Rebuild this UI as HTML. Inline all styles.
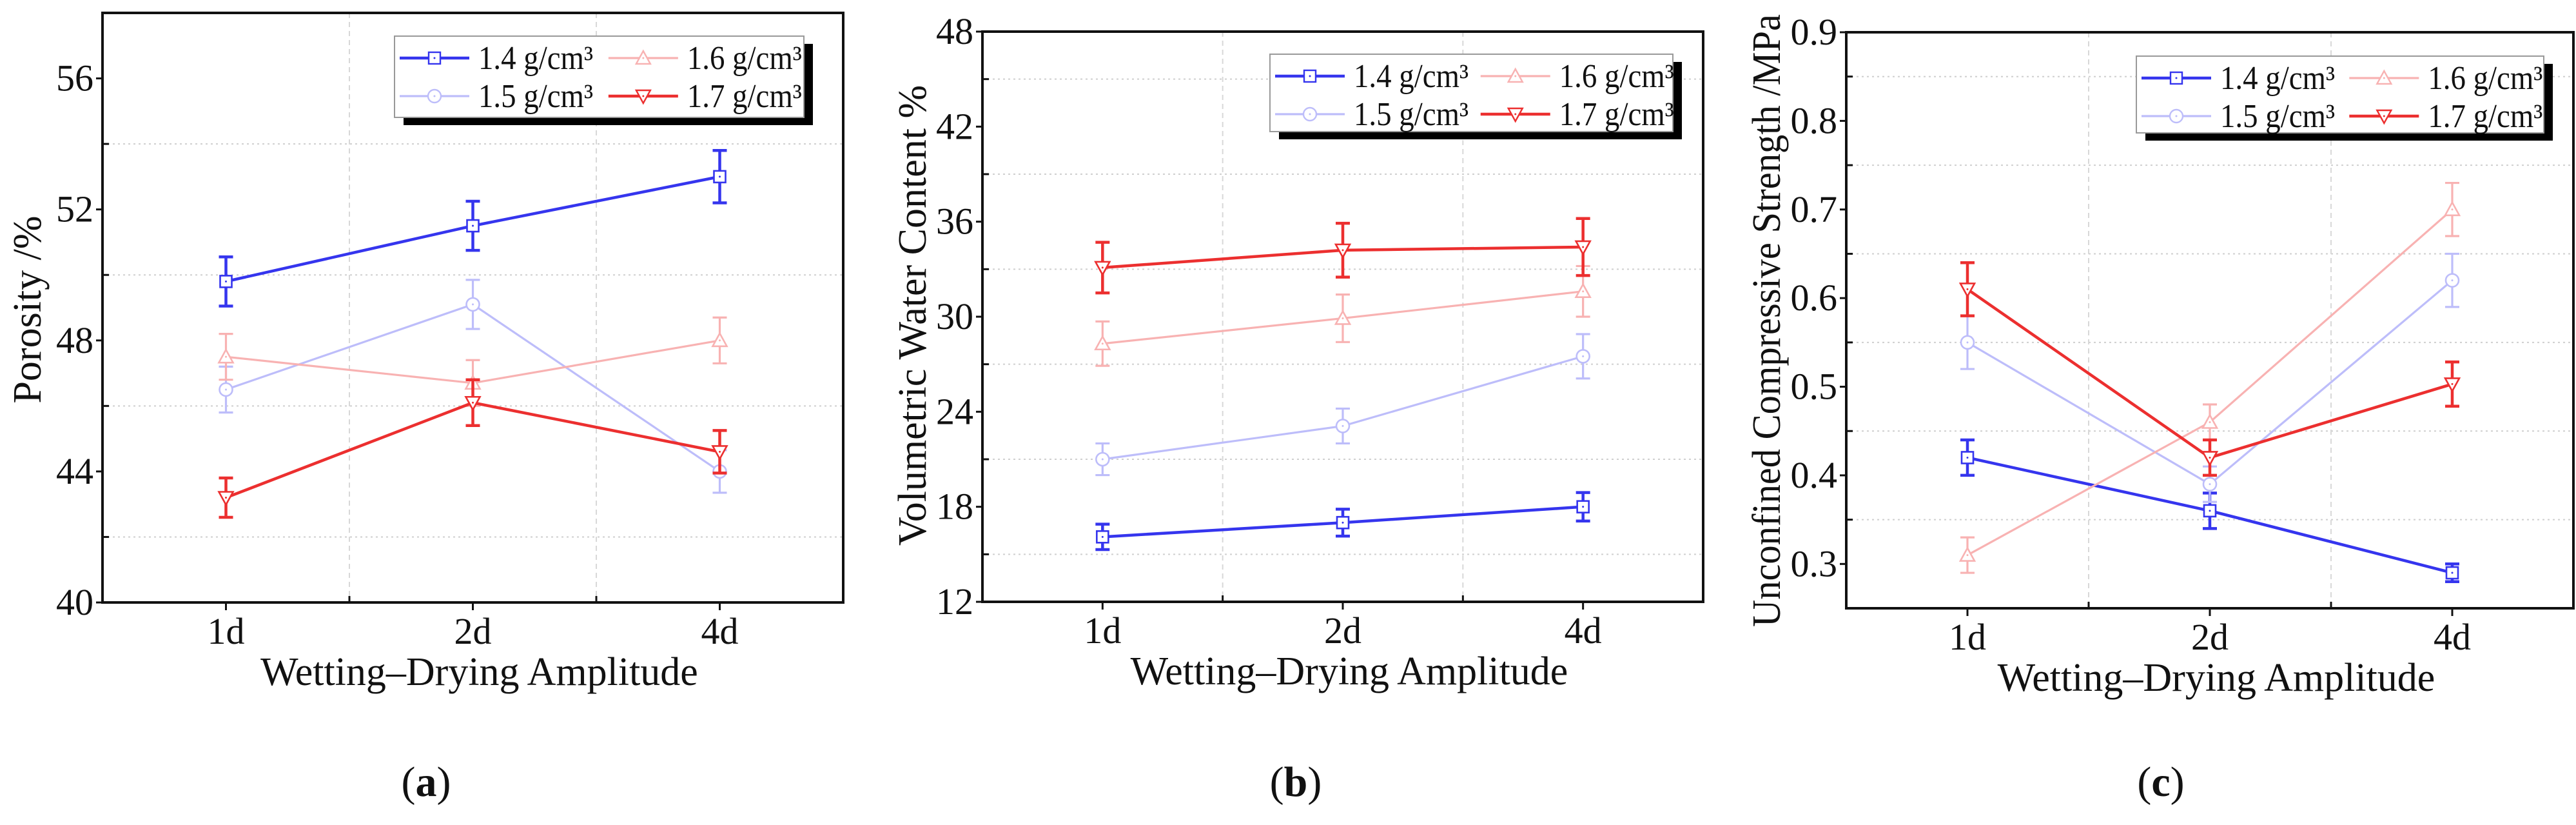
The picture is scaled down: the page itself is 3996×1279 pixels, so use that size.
<!DOCTYPE html>
<html><head><meta charset="utf-8">
<style>
html,body{margin:0;padding:0;background:#fff;}
svg{display:block;}
text{font-family:"Liberation Serif","DejaVu Serif",serif;fill:#111;}
</style></head>
<body>
<svg id="fig" width="3996" height="1279" viewBox="0 0 3996 1279" xmlns="http://www.w3.org/2000/svg" font-family="Liberation Serif, DejaVu Serif, serif"></svg>
<script>
const categories = ["1d","2d","4d"];
const seriesNames = ["1.4 g/cm³","1.5 g/cm³","1.6 g/cm³","1.7 g/cm³"];
// Panel (a) porosity
const porosity14 = [49.8, 51.5, 53.0];
const porosity15 = [46.5, 49.1, 44.0];
const porosity16 = [47.5, 46.7, 48.0];
const porosity17 = [43.2, 46.1, 44.6];
const porosityErr14 = [0.75, 0.75, 0.8];
const porosityErr15 = [0.7, 0.75, 0.65];
const porosityErr16 = [0.7, 0.7, 0.7];
const porosityErr17 = [0.6, 0.7, 0.65];
const porosityTicks = [40, 44, 48, 52, 56];
// Panel (b) volumetric water content
const water14 = [16.1, 17.0, 18.0];
const water15 = [21.0, 23.1, 27.5];
const water16 = [28.3, 29.9, 31.6];
const water17 = [33.1, 34.2, 34.4];
const waterErr14 = [0.8, 0.85, 0.9];
const waterErr15 = [1.0, 1.1, 1.4];
const waterErr16 = [1.4, 1.5, 1.6];
const waterErr17 = [1.6, 1.7, 1.8];
const waterTicks = [12, 18, 24, 30, 36, 42, 48];
// Panel (c) unconfined compressive strength
const ucs14 = [0.42, 0.36, 0.29];
const ucs15 = [0.55, 0.39, 0.62];
const ucs16 = [0.31, 0.46, 0.70];
const ucs17 = [0.61, 0.42, 0.503];
const ucsErr14 = [0.02, 0.02, 0.01];
const ucsErr15 = [0.03, 0.02, 0.03];
const ucsErr16 = [0.02, 0.02, 0.03];
const ucsErr17 = [0.03, 0.02, 0.025];
const ucsTicks = [0.3, 0.4, 0.5, 0.6, 0.7, 0.8, 0.9];

const colors = ["#3535ee","#bdbdfa","#f8b2b2","#ec2f2f"];
const widths = [4.5, 3.2, 3.2, 4.5];
const markers = ["square","circle","up","down"];

const NS = "http://www.w3.org/2000/svg";
const svg = document.getElementById("fig");
const FONT = "Liberation Serif, DejaVu Serif, serif";
function mk(tag, attrs, parent){
  const e = document.createElementNS(NS, tag);
  for (const k in attrs) e.setAttribute(k, attrs[k]);
  if (tag==="text") e.setAttribute("font-family", FONT);
  (parent||svg).appendChild(e);
  return e;
}

const panels = [
  {id:"a", L:159, R:1308, T:20, B:934, ymin:40, ymax:58, ticks:porosityTicks, dec:0,
   data:[porosity14,porosity15,porosity16,porosity17], err:[porosityErr14,porosityErr15,porosityErr16,porosityErr17],
   title:"Porosity /%", titleX:63, titleY:480, titleLen:0,
   leg:{x:612,y:56,w:635,h:126}, label:"a", labelX:661},
  {id:"b", L:1524, R:2642, T:49, B:933, ymin:12, ymax:48, ticks:waterTicks, dec:0,
   data:[water14,water15,water16,water17], err:[waterErr14,waterErr15,waterErr16,waterErr17],
   title:"Volumetric Water Content %", titleX:1436, titleY:489, titleLen:0,
   leg:{x:1970,y:84,w:625,h:120}, label:"b", labelX:2010},
  {id:"c", L:2864, R:3992, T:50, B:943, ymin:0.25, ymax:0.9, ticks:ucsTicks, dec:1,
   data:[ucs14,ucs15,ucs16,ucs17], err:[ucsErr14,ucsErr15,ucsErr16,ucsErr17],
   title:"Unconfined Compressive Strength /MPa", titleX:2761, titleY:497, titleLen:950,
   leg:{x:3314,y:87,w:632,h:119}, label:"c", labelX:3352}
];

function drawMarker(g, type, x, y, color, sw){
  const s = 9;
  let m;
  if (type==="square") m = mk("rect",{x:x-s,y:y-s,width:2*s,height:2*s,fill:"#fff",stroke:color,"stroke-width":sw},g);
  else if (type==="circle") m = mk("circle",{cx:x,cy:y,r:s+1,fill:"#fff",stroke:color,"stroke-width":sw},g);
  else if (type==="up") m = mk("polygon",{points:`${x},${y-s-2} ${x-s-2},${y+s} ${x+s+2},${y+s}`,fill:"#fff",stroke:color,"stroke-width":sw},g);
  else m = mk("polygon",{points:`${x},${y+s+2} ${x-s-2},${y-s} ${x+s+2},${y-s}`,fill:"#fff",stroke:color,"stroke-width":sw},g);
  
  
  mk("circle",{cx:x,cy:y,r:1.5,fill:color},g);
}

panels.forEach(p=>{
  const g = mk("g",{});
  
  
  const step = (p.R-p.L)/categories.length;
  const xs = i => p.L + step*(i+0.5);
  const ys = v => p.B - (v-p.ymin)/(p.ymax-p.ymin)*(p.B-p.T);

  const tstep = p.ticks[1]-p.ticks[0];
  const minors = [];
  for (let k=-1;k<p.ticks.length;k++){
    const v = p.ticks[0] + tstep*(k+0.5);
    if (v > p.ymin+1e-9 && v < p.ymax-1e-9) minors.push(v);
  }
  minors.forEach(v=>{
    const gl = mk("line",{x1:p.L,x2:p.R,y1:ys(v),y2:ys(v),stroke:"#cfcfcf","stroke-width":2,"stroke-dasharray":"3 5"},g);
    
    
    const mt = mk("line",{x1:p.L,x2:p.L+10,y1:ys(v),y2:ys(v),stroke:"#111","stroke-width":3},g);
    
    
  });
  for (let i=1;i<categories.length;i++){
    const x = p.L+step*i;
    const gl = mk("line",{x1:x,x2:x,y1:p.T,y2:p.B,stroke:"#d8d8d8","stroke-width":2,"stroke-dasharray":"8 6"},g);
    
    
    const mt = mk("line",{x1:x,x2:x,y1:p.B,y2:p.B-10,stroke:"#111","stroke-width":3},g);
    
    
  }

  const fr = mk("rect",{x:p.L,y:p.T,width:p.R-p.L,height:p.B-p.T,fill:"none",stroke:"#111","stroke-width":4},g);
  
  

  p.ticks.forEach(t=>{
    const y = ys(t);
    mk("line",{x1:p.L-10,x2:p.L,y1:y,y2:y,stroke:"#111","stroke-width":3},g);
    const tx = mk("text",{x:p.L-14,y:y+19,"font-size":58,"text-anchor":"end"},g);
    tx.textContent = t.toFixed(p.dec);
    
    
  });
  categories.forEach((c,i)=>{
    const x = xs(i);
    mk("line",{x1:x,x2:x,y1:p.B,y2:p.B+12,stroke:"#111","stroke-width":3},g);
    const tx = mk("text",{x:x,y:p.B+64,"font-size":58,"text-anchor":"middle"},g);
    tx.textContent = c;
    
    
  });

  const xt = mk("text",{x:(p.L+p.R)/2+10,y:p.B+128,"font-size":62,"text-anchor":"middle"},g);
  xt.textContent = "Wetting–Drying Amplitude";
  
  
  const yt = mk("text",{x:0,y:0,"font-size":62,"text-anchor":"middle",transform:`translate(${p.titleX},${p.titleY}) rotate(-90)`},g);
  if (p.titleLen) { yt.setAttribute("textLength", p.titleLen); yt.setAttribute("lengthAdjust","spacingAndGlyphs"); }
  yt.textContent = p.title;
  
  

  p.data.forEach((vals,si)=>{
    const sg = mk("g",{},g);
    
    
    const pts = vals.map((v,i)=>`${xs(i)},${ys(v)}`).join(" ");
    const pl = mk("polyline",{points:pts,fill:"none",stroke:colors[si],"stroke-width":widths[si]},sg);
    
    
    vals.forEach((v,i)=>{
      const e = p.err[si][i], x = xs(i);
      const eb = mk("path",{d:`M${x},${ys(v+e)}L${x},${ys(v-e)}M${x-11},${ys(v+e)}L${x+11},${ys(v+e)}M${x-11},${ys(v-e)}L${x+11},${ys(v-e)}`,fill:"none",stroke:colors[si],"stroke-width":widths[si]},sg);
      
      
    });
    vals.forEach((v,i)=> drawMarker(sg, markers[si], xs(i), ys(v), colors[si], 2.6));
  });

  const lg = mk("g",{},g);
  
  
  const L = p.leg;
  mk("rect",{x:L.x+14,y:L.y+12,width:L.w,height:L.h,fill:"#000"},lg);
  mk("rect",{x:L.x,y:L.y,width:L.w,height:L.h,fill:"#fff",stroke:"#999","stroke-width":2},lg);
  const order = [0,2,1,3];
  order.forEach((si,k)=>{
    const col = k%2, row = Math.floor(k/2);
    const x0 = L.x + 8 + col*(L.w*0.51);
    const y0 = L.y + 34 + row*59;
    const ent = mk("g",{},lg);
    
    
    mk("line",{x1:x0,x2:x0+108,y1:y0,y2:y0,stroke:colors[si],"stroke-width":widths[si]},ent);
    drawMarker(ent, markers[si], x0+54, y0, colors[si], 2.4);
    const t = mk("text",{x:x0+122,y:y0+17,"font-size":52,textLength:178,lengthAdjust:"spacingAndGlyphs"},ent);
    t.textContent = seriesNames[si];
  });

  const pl = mk("text",{x:p.labelX,y:1234,"font-size":66,"text-anchor":"middle"},g);
  pl.innerHTML = '(<tspan font-weight="bold">'+p.label+'</tspan>)';
  
  
});
</script>
</body></html>
